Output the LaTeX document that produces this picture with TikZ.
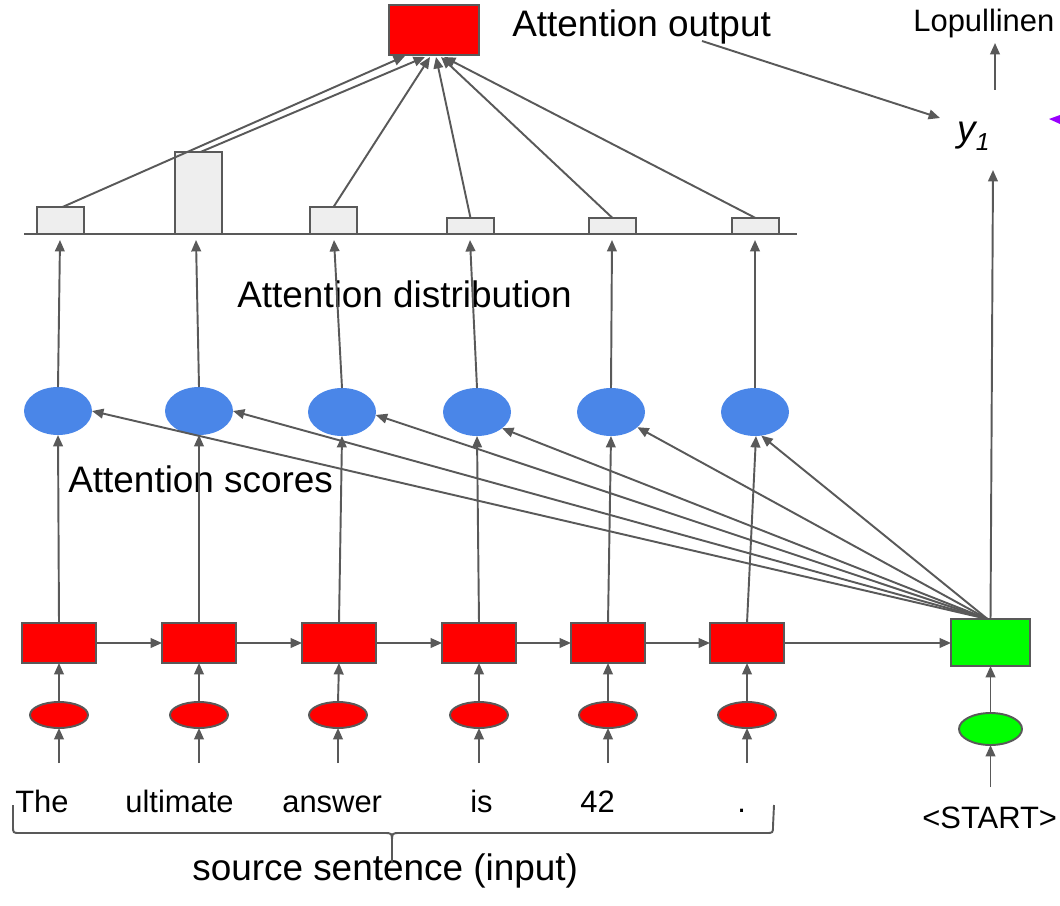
\documentclass[tikz,border=0pt]{standalone}
\usepackage{fontspec}
\setmainfont{Liberation Sans}
\usetikzlibrary{shapes.geometric,arrows.meta,calc}

\definecolor{linegray}{HTML}{595959}
\definecolor{barfill}{HTML}{EEEEEE}
\definecolor{scoreblue}{HTML}{4A86E8}
\definecolor{encred}{HTML}{FF0000}
\definecolor{decgreen}{HTML}{00FF00}
\definecolor{markpurple}{HTML}{9900FF}

\tikzset{
  conn/.style={draw=linegray, line width=1.1pt, -{Triangle[length=6.5pt,width=5.5pt]}},
  plain/.style={draw=linegray, line width=1.1pt},
  encbox/.style={rectangle, draw=linegray, line width=1.1pt, fill=encred,
    minimum width=1.48cm, minimum height=0.8cm, inner sep=0pt, outer sep=0pt},
  decbox/.style={rectangle, draw=linegray, line width=1.1pt, fill=decgreen,
    minimum width=1.58cm, minimum height=0.94cm, inner sep=0pt, outer sep=0pt},
  outbox/.style={rectangle, draw=linegray, line width=1.1pt, fill=encred,
    minimum width=1.8cm, minimum height=1.0cm, inner sep=0pt, outer sep=0pt},
  scorenode/.style={ellipse, fill=scoreblue, draw=none,
    minimum width=1.36cm, minimum height=0.96cm, inner sep=0pt, outer sep=0pt},
  embnode/.style={ellipse, draw=linegray, line width=1.1pt, fill=encred,
    minimum width=1.16cm, minimum height=0.52cm, inner sep=0pt, outer sep=0pt},
  decemb/.style={ellipse, draw=linegray, line width=1.1pt, fill=decgreen,
    minimum width=1.26cm, minimum height=0.64cm, inner sep=0pt, outer sep=0pt},
  barnode/.style={rectangle, draw=linegray, line width=1.1pt, fill=barfill,
    minimum width=0.94cm, inner sep=0pt, outer sep=0pt, anchor=south},
  bigtext/.style={font=\fontsize{21}{25}\selectfont, inner sep=0pt, anchor=base west},
  smalltext/.style={font=\fontsize{17.6}{21}\selectfont, inner sep=0pt, anchor=base west},
}

\begin{document}
\begin{tikzpicture}[x=0.02cm, y=-0.02cm]
\useasboundingbox (0,0) rectangle (1060,905);

% attention distribution baseline and bars
\draw[draw=linegray, line width=1.1pt] (24,234) -- (797,234);
\node[barnode, minimum height=0.54cm] (b1) at (60.5,234) {};
\node[barnode, minimum height=1.64cm] (b2) at (198.5,234) {};
\node[barnode, minimum height=0.54cm] (b3) at (333.5,234) {};
\node[barnode, minimum height=0.32cm] (b4) at (470.5,234) {};
\node[barnode, minimum height=0.32cm] (b5) at (612.5,234) {};
\node[barnode, minimum height=0.32cm] (b6) at (755.5,234) {};

% attention output
\node[outbox] (out) at (434,30) {};
\node[bigtext] (aotext) at (512,37) {Attention output};

% encoder hidden states
\node[encbox] (h1) at (59,643) {};
\node[encbox] (h2) at (199,643) {};
\node[encbox] (h3) at (339,643) {};
\node[encbox] (h4) at (479,643) {};
\node[encbox] (h5) at (608,643) {};
\node[encbox] (h6) at (747,643) {};
\node[decbox] (dec) at (990.5,642.5) {};

% word embeddings
\node[embnode] (w1) at (59,715) {};
\node[embnode] (w2) at (199,715) {};
\node[embnode] (w3) at (338,715) {};
\node[embnode] (w4) at (479,715) {};
\node[embnode] (w5) at (608,715) {};
\node[embnode] (w6) at (747,715) {};
\node[decemb] (wd) at (990.5,729) {};

% attention scores
\node[scorenode] (s1) at (58,411) {};
\node[scorenode] (s2) at (199,411) {};
\node[scorenode] (s3) at (342,412) {};
\node[scorenode] (s4) at (477,412) {};
\node[scorenode] (s5) at (611,412) {};
\node[scorenode] (s6) at (755,412) {};

% labels
\node[bigtext] (adist) at (237,307) {Attention distribution};
\node[bigtext] (ascore) at (68,492) {Attention scores};
\node[bigtext] (src) at (192,880) {source sentence (input)};
\node[smalltext] (lop) at (913,32) {Lopullinen};
\node[smalltext] (start) at (922,828) {<START>};
\node[smalltext] (t1) at (15,812) {The};
\node[smalltext] (t2) at (125,812) {ultimate};
\node[smalltext] (t3) at (282,812) {answer};
\node[smalltext] (t4) at (470,812) {is};
\node[smalltext] (t5) at (580,812) {42};
\node[smalltext] (t6) at (737,812) {.};
\node[font=\fontsize{21}{25}\selectfont\itshape, inner sep=0pt, anchor=base west] (y1)
  at (957,142) {y\raisebox{-0.45ex}{\fontsize{14}{16}\selectfont 1}};

% free ends of connectors
\coordinate (aotail) at (702,41);
\coordinate (y1in) at (940,118);
\coordinate (y1low) at (993,170);
\coordinate (loptail) at (995,90);
\coordinate (lophead) at (995,43);
\foreach \i/\x in {1/59,2/199,3/338,4/479,5/608,6/747}{
  \coordinate (in\i) at (\x,763);
}
\coordinate (indec) at (990.5,787);

% inputs into embeddings, embeddings into hidden states
\foreach \i in {1,...,6}{
  \draw[conn] (in\i) -- (w\i.south);
  \draw[conn] (w\i.north) -- (h\i.south);
}
\draw[conn] (indec) -- (wd.south);
\draw[conn] (wd.north) -- (dec.south);

% recurrence
\draw[conn] (h1.east) -- (h2.west);
\draw[conn] (h2.east) -- (h3.west);
\draw[conn] (h3.east) -- (h4.west);
\draw[conn] (h4.east) -- (h5.west);
\draw[conn] (h5.east) -- (h6.west);
\draw[conn] (h6.east) -- (dec.west |- h6.east);

% hidden states up to scores
\draw[conn] (h1.north) -- (s1.south);
\draw[conn] (h2.north) -- (s2.south);
\draw[conn] (h3.north) -- (s3.south);
\draw[conn] (h4.north) -- (s4.south);
\draw[conn] (h5.north) -- (s5.south);
\draw[conn] ($(h6.north)+(0,0)$) -- ($(s6.south)+(1,0)$);

% decoder state to every score
\coordinate (dtop) at ($(dec.north)+(-3,0)$);
\draw[conn] (dtop) -- (s1.east);
\draw[conn] (dtop) -- (s2.east);
\draw[conn] (dtop) -- (s3.-5);
\draw[conn] (dtop) -- (s4.-33);
\draw[conn] (dtop) -- (s5.-30);
\draw[conn] (dtop) -- (s6.-75);

% scores up to distribution
\draw[conn] (s1.north) -- (60,240);
\draw[conn] (s2.north) -- (196,240);
\draw[conn] (s3.north) -- (334,240);
\draw[conn] (s4.north) -- (470,240);
\draw[conn] (s5.north) -- (612,240);
\draw[conn] (s6.north) -- (755,240);

% distribution into attention output
\draw[conn] ($(b1.north)+(2,0)$) -- ($(out.south)+(-29,1)$);
\draw[conn] ($(b2.north)+(2,0)$) -- ($(out.south)+(-9,2)$);
\draw[conn] ($(b3.north)+(0,0)$) -- ($(out.south)+(-4,2)$);
\draw[conn] (b4.north) -- ($(out.south)+(2,2)$);
\draw[conn] (b5.north) -- ($(out.south)+(7,2)$);
\draw[conn] (b6.north) -- ($(out.south)+(10,2)$);

% decoder to output word
\draw[conn] (aotail) -- (y1in);
\draw[conn] (dec.north) -- (y1low);
\draw[conn] (loptail) -- (lophead);

% brace under the source sentence
\draw[plain] (13,805) -- (13,826) .. controls (13,833) .. (20,833)
  -- (384,833) .. controls (392,833) .. (392,842) -- (392,863);
\draw[plain] (392,842) .. controls (392,833) .. (400,833)
  -- (766,833) .. controls (773,833) .. (773,826) -- (774,805);

% partly visible arrow head at the right edge
\fill[markpurple] (1049,119) -- (1060,115) -- (1060,124) -- cycle;
\end{tikzpicture}
\end{document}
